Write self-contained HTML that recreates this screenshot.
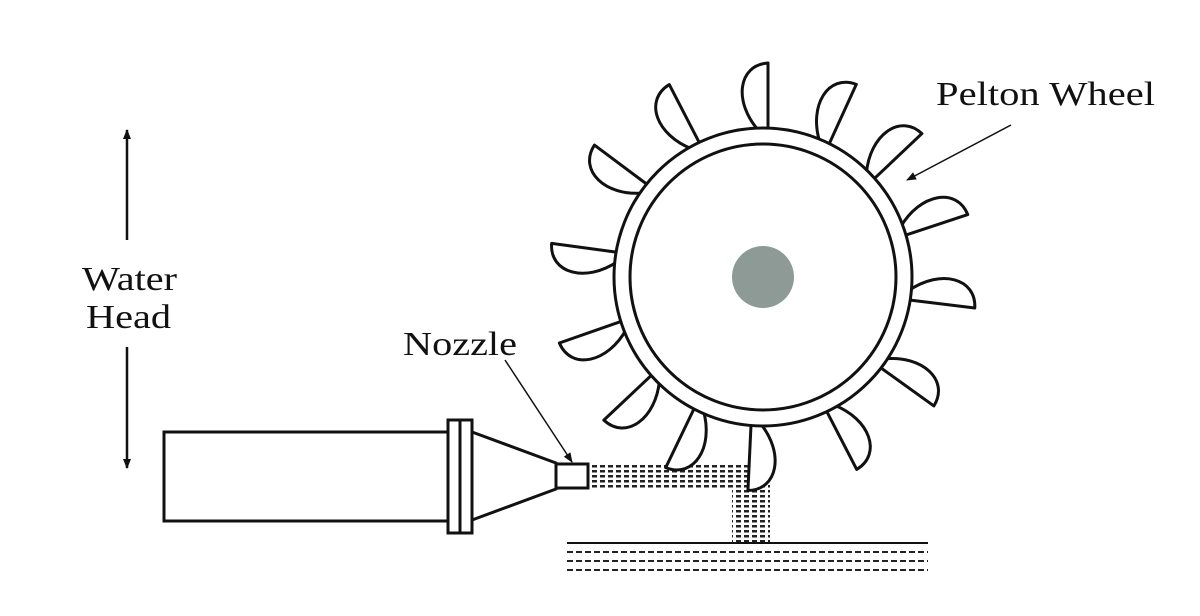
<!DOCTYPE html>
<html><head><meta charset="utf-8"><style>html,body{margin:0;padding:0;background:#fff}svg{display:block}text{font-family:"Liberation Serif","Times New Roman",serif}</style></head>
<body>
<svg width="1200" height="616" viewBox="0 0 1200 616" xmlns="http://www.w3.org/2000/svg">
<defs>
<marker id="ah" markerWidth="10" markerHeight="10" refX="9" refY="5" orient="auto" markerUnits="userSpaceOnUse"><path d="M0,1 L10,5 L0,9 Z" fill="#111"/></marker>
<pattern id="dots" width="8" height="5" patternUnits="userSpaceOnUse"><rect x="0" y="0" width="5" height="2.5" fill="#222"/></pattern>
</defs>
<g fill="#111">
<text x="82" y="290" font-size="34" textLength="95" lengthAdjust="spacingAndGlyphs">Water</text>
<text x="86" y="328" font-size="34" textLength="85" lengthAdjust="spacingAndGlyphs">Head</text>
<text x="403" y="355" font-size="34" textLength="114" lengthAdjust="spacingAndGlyphs">Nozzle</text>
<text x="936" y="105" font-size="34" textLength="219" lengthAdjust="spacingAndGlyphs">Pelton Wheel</text>
</g>
<g stroke="#111" stroke-width="2.5">
<line x1="127" y1="240" x2="127" y2="130" marker-end="url(#ah)"/>
<line x1="127" y1="347" x2="127" y2="468" marker-end="url(#ah)"/>
<line x1="505" y1="360" x2="572" y2="462" stroke-width="1.5" marker-end="url(#ah)"/>
<line x1="1011" y1="125" x2="907" y2="180" stroke-width="1.5" marker-end="url(#ah)"/>
</g>
<rect x="590" y="465" width="172" height="24" fill="url(#dots)"/>
<rect x="732" y="485" width="38" height="58" fill="url(#dots)"/>
<line x1="567" y1="543" x2="928" y2="543" stroke="#111" stroke-width="2"/>
<g stroke="#222" stroke-width="2" stroke-dasharray="6,3">
<line x1="567" y1="552" x2="928" y2="552"/><line x1="567" y1="561" x2="928" y2="561"/><line x1="567" y1="570" x2="928" y2="570"/>
</g>
<g fill="#fff" stroke="#111" stroke-width="3">
<rect x="164" y="432" width="286" height="89"/>
<path d="M472,432 L556,463 L556,489 L472,520 Z"/>
<rect x="448" y="420" width="24" height="113"/>
<line x1="460" y1="420" x2="460" y2="533"/>
<rect x="556" y="464" width="32" height="24"/>
</g>
<g transform="translate(763,277)" fill="#fff" stroke="#111" stroke-width="3" stroke-linejoin="round">
<g id="b" transform="rotate(-90)"><path d="M146,5 L214,5 C212,-25 175,-30 146,-4 Z"/></g>
<use href="#b" transform="rotate(24.5)"/>
<use href="#b" transform="rotate(46.6)"/>
<use href="#b" transform="rotate(71.7)"/>
<use href="#b" transform="rotate(97)"/>
<use href="#b" transform="rotate(125.7)"/>
<use href="#b" transform="rotate(152.7)"/>
<use href="#b" transform="rotate(182.7)"/>
<use href="#b" transform="rotate(205.7)"/>
<use href="#b" transform="rotate(226.7)"/>
<use href="#b" transform="rotate(250.7)"/>
<use href="#b" transform="rotate(277.7)"/>
<use href="#b" transform="rotate(306.7)"/>
<use href="#b" transform="rotate(332.7)"/>
<circle r="149"/>
<circle r="133"/>
<circle r="31" fill="#8e9a96" stroke="none"/>
</g>
</svg>
</body></html>
